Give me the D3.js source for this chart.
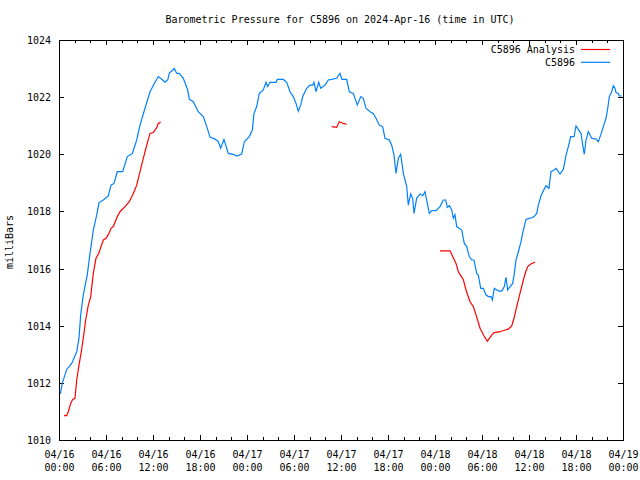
<!DOCTYPE html>
<html><head><meta charset="utf-8">
<script src="https://cdn.jsdelivr.net/npm/d3@7"></script>
<style>
body{margin:0;background:#fff;}
svg text{font-family:"DejaVu Sans Mono","Liberation Mono",monospace;font-size:10px;fill:#000;}
</style></head>
<body><svg id="c" width="640" height="480"></svg>
<script>
// ---- data (hours since 2024-04-16 00:00 UTC, millibars) ----
const title = "Barometric Pressure for C5896 on 2024-Apr-16 (time in UTC)";
const yLabel = "milliBars";
const seriesNames = ["C5896 Analysis", "C5896"];
const yTicks = [1010, 1012, 1014, 1016, 1018, 1020, 1022, 1024];
const xMajorHours = [0, 6, 12, 18, 24, 30, 36, 42, 48, 54, 60, 66, 72];
const xTickDates = ["04/16","04/16","04/16","04/16","04/17","04/17","04/17","04/17","04/18","04/18","04/18","04/18","04/19"];
const xTickTimes = ["00:00","06:00","12:00","18:00","00:00","06:00","12:00","18:00","00:00","06:00","12:00","18:00","00:00"];

const obsHours = [0.17,0.42,0.98,1.62,2.26,2.55,2.77,3.10,3.61,3.96,4.38,4.81,5.11,5.66,6.29,6.64,7.02,7.44,8.13,8.72,9.36,9.92,10.34,10.98,11.62,12.26,12.68,13.24,13.53,13.88,14.08,14.72,15.03,15.36,15.87,16.43,16.63,17.15,17.78,18.42,18.86,19.28,19.92,20.34,20.64,21.06,21.61,22.25,22.69,23.32,23.66,24.29,24.68,24.89,25.24,25.57,26.08,26.43,26.64,26.94,27.70,27.87,28.64,29.07,29.49,29.91,30.26,30.55,30.86,31.11,31.62,32.04,32.39,32.55,32.81,33.15,33.41,33.96,34.38,34.81,35.45,35.87,36.13,36.73,37.06,37.57,38.08,38.52,38.85,39.19,39.70,40.12,40.47,40.89,41.32,41.62,42.17,42.47,42.77,43.02,43.32,43.62,43.96,44.39,44.59,44.90,45.15,45.32,45.66,46.09,46.43,46.72,47.02,47.28,47.58,48.13,48.64,49.06,49.37,49.57,49.83,50.13,50.34,50.55,50.77,51.06,51.41,51.74,52.05,52.38,52.69,52.98,53.32,53.53,53.84,54.17,54.51,54.81,55.15,55.32,55.57,55.88,56.21,56.52,56.85,57.06,57.28,57.58,57.92,58.13,58.34,58.64,58.98,59.28,59.62,59.91,60.35,60.64,60.99,61.19,61.53,61.83,62.17,62.55,62.81,63.10,63.45,63.96,64.38,64.73,65.02,65.32,65.75,66.00,66.29,66.64,66.86,67.06,67.28,67.57,68.01,68.55,68.85,69.15,69.49,69.83,70.05,70.25,70.56,70.76,70.98,71.11,71.40,71.53,71.87];
const obsValues = [1011.61,1011.98,1012.47,1012.68,1013.09,1013.56,1014.38,1015.08,1015.78,1016.53,1017.35,1017.87,1018.31,1018.40,1018.54,1018.92,1018.98,1019.39,1019.39,1019.92,1020.03,1020.50,1021.02,1021.61,1022.19,1022.52,1022.72,1022.60,1022.52,1022.60,1022.83,1023.00,1022.83,1022.83,1022.66,1022.25,1021.93,1021.84,1021.49,1021.32,1020.97,1020.60,1020.53,1020.44,1020.21,1020.52,1020.03,1020.00,1019.94,1020.01,1020.44,1020.62,1020.85,1021.43,1021.67,1022.13,1022.25,1022.52,1022.37,1022.52,1022.52,1022.62,1022.62,1022.52,1022.19,1022.02,1021.78,1021.51,1021.72,1022.02,1022.31,1022.42,1022.42,1022.52,1022.19,1022.52,1022.31,1022.42,1022.60,1022.62,1022.66,1022.83,1022.62,1022.62,1022.19,1022.13,1021.72,1022.02,1021.96,1021.61,1021.49,1021.43,1021.26,1021.02,1020.97,1020.56,1020.50,1020.32,1019.97,1019.33,1019.86,1020.00,1019.33,1018.87,1018.22,1018.61,1018.46,1017.93,1018.46,1018.61,1018.55,1018.69,1018.28,1017.93,1018.03,1018.03,1018.17,1018.40,1018.40,1018.14,1018.20,1018.06,1017.76,1017.88,1017.47,1017.41,1017.35,1016.88,1016.77,1016.42,1016.30,1016.30,1015.83,1015.77,1015.31,1015.31,1015.08,1015.02,1015.02,1014.90,1015.31,1015.25,1015.21,1015.21,1015.37,1015.69,1015.25,1015.37,1015.48,1015.83,1016.30,1016.59,1016.94,1017.35,1017.72,1017.75,1017.78,1017.82,1017.93,1018.22,1018.54,1018.72,1018.90,1018.81,1019.39,1019.43,1019.51,1019.31,1019.47,1019.97,1020.27,1020.62,1020.62,1020.99,1020.87,1020.73,1020.32,1020.00,1020.50,1020.79,1020.56,1020.53,1020.44,1020.67,1020.97,1021.26,1021.61,1022.02,1022.19,1022.40,1022.31,1022.16,1022.13,1022.04,1022.04];

// analysis: three separate runs, NaN marks the gaps
const anaHours = [0.64,0.98,1.19,1.49,1.75,2.04,2.26,2.59,2.85,3.10,3.41,3.74,4.05,4.38,4.72,5.07,5.36,5.66,6.00,6.38,6.64,6.93,7.44,7.79,8.43,8.97,9.49,9.92,10.34,10.76,11.20,11.62,12.04,12.47,12.68,12.98,
  20.0,
  34.81,35.45,35.78,36.29,36.73,
  42.0,
  48.64,49.92,50.26,50.68,50.98,51.61,51.96,52.47,52.89,53.32,53.75,54.26,54.68,55.24,55.57,56.30,56.94,57.36,57.79,58.09,58.43,58.85,59.28,59.58,59.84,60.22,60.77];
const anaValues = [1010.85,1010.85,1010.99,1011.28,1011.42,1011.46,1012.10,1012.68,1013.09,1013.56,1014.20,1014.72,1015.02,1015.83,1016.36,1016.53,1016.77,1017.00,1017.06,1017.23,1017.41,1017.47,1017.82,1017.99,1018.17,1018.34,1018.63,1018.92,1019.39,1019.86,1020.32,1020.73,1020.76,1020.93,1021.08,1021.13,
  NaN,
  1020.97,1020.94,1021.14,1021.08,1021.05,
  NaN,
  1016.62,1016.62,1016.42,1016.18,1015.89,1015.62,1015.25,1014.84,1014.67,1014.31,1013.91,1013.64,1013.46,1013.67,1013.76,1013.79,1013.85,1013.88,1013.99,1014.26,1014.67,1015.13,1015.60,1015.89,1016.07,1016.16,1016.22];

const colors = ["#ff0000", "#0080ff"];

// ---- drawing ----
const svg = d3.select("#c");
const L = 59, R = 623, T = 40, B = 440;
const x = d3.scaleLinear().domain([0, 72]).range([L, R]);
const y = d3.scaleLinear().domain([1010, 1024]).range([B, T]);

svg.append("rect").attr("width",640).attr("height",480).attr("fill","#fff");

const minorHours = d3.range(0, 73, 2);

function axisStyle(g){
  g.select(".domain").remove();
  g.selectAll("line").attr("stroke","#000").attr("shape-rendering","crispEdges");
}
// bottom / top minor + major ticks (inward)
svg.append("g").attr("transform",`translate(0,${B})`)
  .call(d3.axisBottom(x).tickValues(minorHours).tickSize(-3).tickFormat(""))
  .call(axisStyle);
svg.append("g").attr("transform",`translate(0,${T})`)
  .call(d3.axisTop(x).tickValues(minorHours).tickSize(-3).tickFormat(""))
  .call(axisStyle);
const bx = svg.append("g").attr("transform",`translate(0,${B})`)
  .call(d3.axisBottom(x).tickValues(xMajorHours).tickSize(-5).tickPadding(0).tickFormat(""))
  .call(axisStyle);
bx.selectAll(".tick").each(function(d,i){
  const t = d3.select(this).append("text").attr("text-anchor","middle").attr("fill","#000");
  t.append("tspan").attr("x",0).attr("y",18).text(xTickDates[i]);
  t.append("tspan").attr("x",0).attr("y",31).text(xTickTimes[i]);
});
svg.append("g").attr("transform",`translate(0,${T})`)
  .call(d3.axisTop(x).tickValues(xMajorHours).tickSize(-5).tickFormat(""))
  .call(axisStyle);

// left / right y ticks
const ly = svg.append("g").attr("transform",`translate(${L},0)`)
  .call(d3.axisLeft(y).tickValues(yTicks).tickSize(-5).tickPadding(8).tickFormat(d3.format("d")))
  .call(axisStyle);
ly.selectAll("text").attr("font-family",null).attr("font-size",null).attr("dy","0.35em");
svg.append("g").attr("transform",`translate(${R},0)`)
  .call(d3.axisRight(y).tickValues(yTicks).tickSize(-5).tickFormat(""))
  .call(axisStyle);

// frame
svg.append("rect").attr("x",L).attr("y",T).attr("width",R-L).attr("height",B-T)
  .attr("fill","none").attr("stroke","#000").attr("shape-rendering","crispEdges");

// series
const line = d3.line().defined(d => !isNaN(d[1])).x(d => x(d[0])).y(d => y(d[1]));
const anaData = anaHours.map((h,i)=>[h, anaValues[i]]);
const obsData = obsHours.map((h,i)=>[h, obsValues[i]]);
svg.append("path").datum(anaData).attr("d", line)
  .attr("fill","none").attr("stroke",colors[0]).attr("stroke-width",1.2);
svg.append("path").datum(obsData).attr("d", line)
  .attr("fill","none").attr("stroke",colors[1]).attr("stroke-width",1.2);

// title & y label
svg.append("text").attr("x",340).attr("y",23).attr("text-anchor","middle").text(title);
svg.append("text").attr("transform","translate(13,242) rotate(-90)").attr("text-anchor","middle").text(yLabel);

// legend
seriesNames.forEach((n,i)=>{
  const yy = 49.5 + i*12.8;
  svg.append("text").attr("x",575).attr("y",yy).attr("dy","0.35em").attr("text-anchor","end").text(n);
  svg.append("line").attr("x1",581).attr("x2",610).attr("y1",yy).attr("y2",yy)
    .attr("stroke",colors[i]).attr("stroke-width",1.2);
});
</script></body></html>
